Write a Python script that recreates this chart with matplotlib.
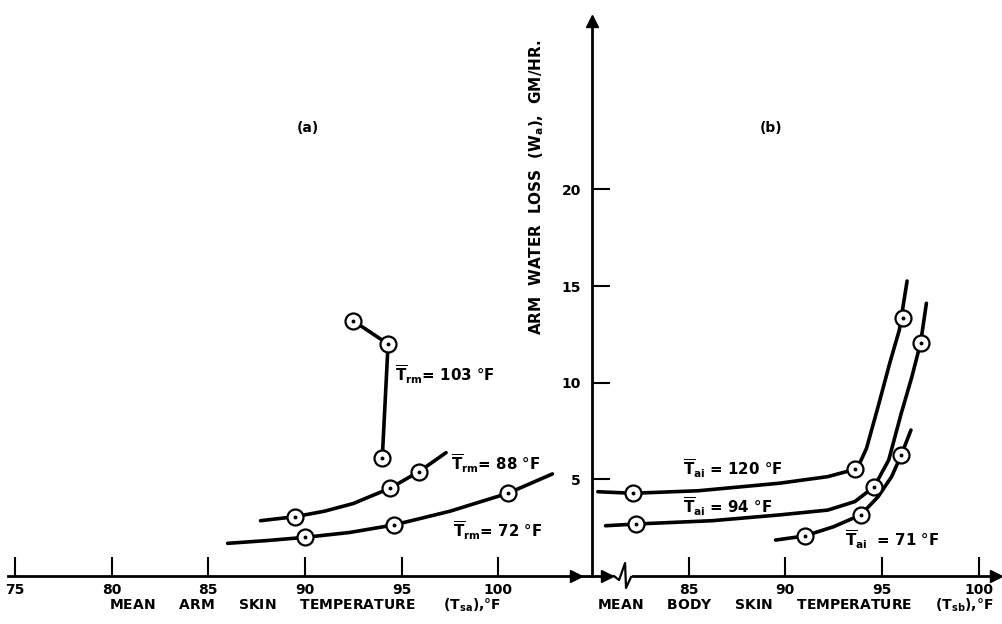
import matplotlib
matplotlib.use("Agg")
import matplotlib.pyplot as plt

plt.rcParams['font.family'] = ['DejaVu Sans']
plt.rcParams['font.weight'] = 'bold'
plt.rcParams['mathtext.fontset'] = 'dejavusans'

# ---------------- data ----------------
# (a) arm water loss vs mean arm skin temperature
arm_ticks = [75, 80, 85, 90, 95, 100]
loss_ticks = [5, 10, 15, 20]

arm_t_103 = [92.5, 94.3, 94.0]
arm_w_103 = [13.2, 12.0, 6.1]

arm_t_88 = [89.5, 94.4, 95.9]
arm_w_88 = [3.07, 4.54, 5.40]
curve_t_88 = [87.7, 89.5, 91.0, 92.5, 94.4, 95.9, 97.3]
curve_w_88 = [2.86, 3.07, 3.35, 3.75, 4.54, 5.40, 6.38]

arm_t_72 = [90.0, 94.6, 100.5]
arm_w_72 = [2.00, 2.64, 4.28]
curve_t_72 = [86.0, 88.0, 90.0, 92.3, 94.6, 97.5, 100.5, 102.8]
curve_w_72 = [1.69, 1.83, 2.00, 2.25, 2.64, 3.35, 4.28, 5.28]

# (b) arm water loss vs mean body skin temperature
body_ticks = [85, 90, 95, 100]

body_t_120 = [82.1, 93.6, 96.1]
body_w_120 = [4.28, 5.52, 13.33]
curve_t_120 = [80.3, 82.1, 85.5, 89.7, 92.2, 93.6, 93.9, 94.2, 94.8, 95.4, 95.9, 96.3]
curve_w_120 = [4.36, 4.28, 4.41, 4.80, 5.14, 5.52, 5.95, 6.60, 8.76, 11.0, 12.73, 15.26]

body_t_94 = [82.3, 94.6, 97.0]
body_w_94 = [2.69, 4.62, 12.07]
curve_t_94 = [80.7, 82.3, 86.2, 89.7, 92.2, 93.6, 94.6, 95.35, 96.0, 96.55, 97.0, 97.3]
curve_w_94 = [2.60, 2.69, 2.86, 3.16, 3.41, 3.85, 4.62, 6.00, 8.42, 10.31, 12.07, 14.11]

body_t_71 = [91.0, 93.9, 96.0]
body_w_71 = [2.07, 3.16, 6.26]
curve_t_71 = [89.5, 91.0, 92.5, 93.9, 94.8, 95.5, 96.0, 96.5]
curve_w_71 = [1.86, 2.07, 2.55, 3.16, 4.10, 5.14, 6.26, 7.55]

# ---------------- figure ----------------
W, H = 1003, 624
fig = plt.figure(figsize=(W / 100, H / 100), dpi=100)
fig.patch.set_facecolor('white')

px = 19.33           # pixels per unit (both axes)
ax_x = 592           # pixel column of the vertical axis
y0 = 576             # pixel row of zero loss

ylim = ((y0 - H) / px, y0 / px)
ax1 = fig.add_axes([0, 0, ax_x / W, 1])
ax2 = fig.add_axes([ax_x / W, 0, (W - ax_x) / W, 1])
ax1.set_xlim(75 - 15 / px, 75 + (ax_x - 15) / px)
ax2.set_xlim(80, 80 + (W - ax_x) / px)
for ax in (ax1, ax2):
    ax.set_ylim(*ylim)
    ax.patch.set_alpha(0)
    for s in ax.spines.values():
        s.set_visible(False)

LW = 2.6
MS = 11.5
lk = dict(color='black', lw=LW, solid_capstyle='round', solid_joinstyle='round', zorder=3)
mk = dict(ls='none', marker='o', ms=MS, mfc='white', mec='black', mew=1.6, zorder=4)
dk = dict(ls='none', marker='o', ms=1.8, color='black', zorder=5)


def series(ax, ct, cw, pt, pw):
    ax.plot(ct, cw, **lk)
    ax.plot(pt, pw, **mk)
    ax.plot(pt, pw, **dk)


# panel (a)
ax1.plot(arm_t_103, arm_w_103, **lk)
ax1.plot(arm_t_103, arm_w_103, **mk)
ax1.plot(arm_t_103, arm_w_103, **dk)
series(ax1, curve_t_88, curve_w_88, arm_t_88, arm_w_88)
series(ax1, curve_t_72, curve_w_72, arm_t_72, arm_w_72)

# panel (b)
series(ax2, curve_t_120, curve_w_120, body_t_120, body_w_120)
series(ax2, curve_t_94, curve_w_94, body_t_94, body_w_94)
series(ax2, curve_t_71, curve_w_71, body_t_71, body_w_71)

# ---------------- axes lines & ticks ----------------
sp_lw = 2.0
tick_fs = 10
b1 = ax1.spines['bottom']
b1.set_visible(True)
b1.set_position(('data', 0))
b1.set_bounds(75 - 7 / px, ax1.get_xlim()[1])
b1.set_linewidth(sp_lw)
ax1.set_xticks(arm_ticks)
ax1.set_xticklabels([str(t) for t in arm_ticks])
ax1.tick_params(axis='x', direction='in', length=14, width=1.5, pad=5,
                labelsize=tick_fs)
ax1.set_yticks([])

b2 = ax2.spines['bottom']
b2.set_visible(True)
b2.set_position(('data', 0))
b2.set_bounds(80, 100.95)
b2.set_linewidth(sp_lw)
ax2.set_xticks(body_ticks)
ax2.set_xticklabels([str(t) for t in body_ticks])
ax2.tick_params(axis='x', direction='in', length=14, width=1.5, pad=5,
                labelsize=tick_fs)

l2 = ax2.spines['left']
l2.set_visible(True)
l2.set_position(('data', 80))
l2.set_bounds(0, 28.7)
l2.set_linewidth(sp_lw)
ax2.set_yticks(loss_ticks)
ax2.set_yticklabels([str(t) for t in loss_ticks])
ax2.tick_params(axis='y', direction='in', length=13, width=1.5, pad=8,
                labelsize=tick_fs)

for lab in ax1.get_xticklabels() + ax2.get_xticklabels() + ax2.get_yticklabels():
    lab.set_fontweight('bold')

# arrow heads
ax1.plot([104.0], [0], marker='>', ms=8, color='black', clip_on=False, zorder=6)
ax2.plot([80.78], [0], marker='>', ms=8, color='black', clip_on=False, zorder=6)
ax2.plot([100.9], [0], marker='>', ms=8, color='black', clip_on=False, zorder=6)
ax2.plot([80], [28.7], marker='^', ms=8, color='black', clip_on=False, zorder=6)
# axis break
ax2.plot([81.0, 81.14, 81.40, 81.71, 81.76, 82.02],
         [0, 0, -0.21, 0.67, -0.62, -0.05], color='black', lw=1.6, zorder=6)
ax2.plot([81.15, 81.95], [0, 0], color='white', lw=3, zorder=5)

# ---------------- texts ----------------
fs = 10.8
ax1.text(90.16, 23.2, '(a)', ha='center', va='center', fontsize=10, fontweight='bold')
ax2.text(89.26, 23.2, '(b)', ha='center', va='center', fontsize=10, fontweight='bold')

ax1.text(94.66, 10.4, r'$\overline{\mathbf{T}}_{\mathbf{rm}}$= 103 °F', ha='left', va='center',
         fontsize=fs, fontweight='bold')
ax1.text(97.54, 5.83, r'$\overline{\mathbf{T}}_{\mathbf{rm}}$= 88 °F', ha='left', va='center',
         fontsize=fs, fontweight='bold')
ax1.text(97.68, 2.33, r'$\overline{\mathbf{T}}_{\mathbf{rm}}$= 72 °F', ha='left', va='center',
         fontsize=fs, fontweight='bold')

ax2.text(84.72, 5.57, r'$\overline{\mathbf{T}}_{\mathbf{ai}}$ = 120 °F', ha='left', va='center',
         fontsize=fs, fontweight='bold')
ax2.text(84.72, 3.59, r'$\overline{\mathbf{T}}_{\mathbf{ai}}$ = 94 °F', ha='left', va='center',
         fontsize=fs, fontweight='bold')
ax2.text(93.09, 1.86, r'$\overline{\mathbf{T}}_{\mathbf{ai}}$  = 71 °F', ha='left', va='center',
         fontsize=fs, fontweight='bold')

fig.text(305 / W, 1 - 605 / H,
         r'MEAN     ARM     SKIN     TEMPERATURE      (T$_{\mathbf{sa}}$),°F',
         ha='center', va='center', fontsize=10, fontweight='bold')
fig.text(795 / W, 1 - 605 / H,
         r'MEAN     BODY     SKIN     TEMPERATURE     (T$_{\mathbf{sb}}$),°F',
         ha='center', va='center', fontsize=10, fontweight='bold')
fig.text(537 / W, 1 - 187 / H,
         r'ARM  WATER  LOSS  (W$_{\mathbf{a}}$),  GM/HR.',
         ha='center', va='center', rotation=90, fontsize=11, fontweight='bold')

fig.savefig('out.png', dpi=100, facecolor='white')
